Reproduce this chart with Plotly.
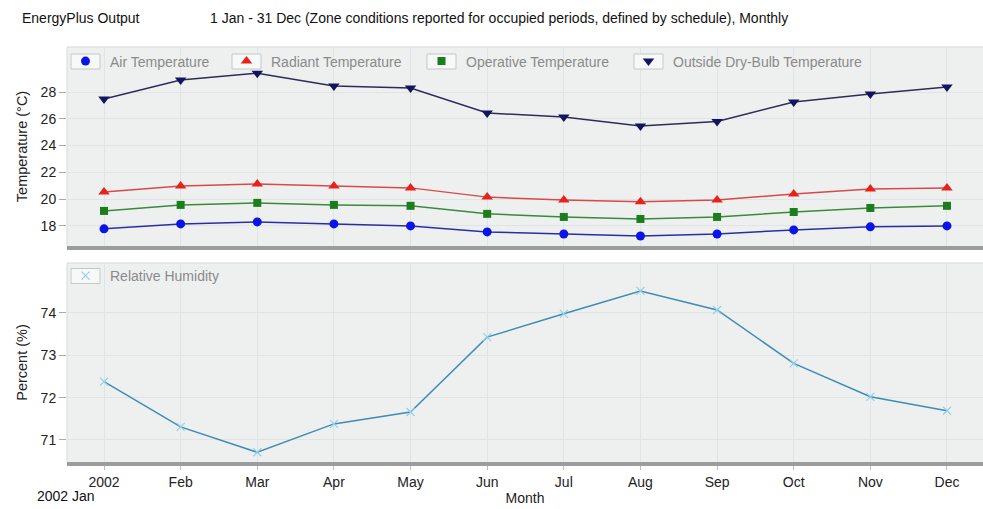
import plotly.graph_objects as go

months = ["Jan", "Feb", "Mar", "Apr", "May", "Jun", "Jul", "Aug", "Sep", "Oct", "Nov", "Dec"]
tick_labels = ["2002", "Feb", "Mar", "Apr", "May", "Jun", "Jul", "Aug", "Sep", "Oct", "Nov", "Dec"]

air_temp = [17.78, 18.15, 18.30, 18.15, 18.00, 17.55, 17.40, 17.25, 17.40, 17.70, 17.93, 18.00]
radiant_temp = [20.54, 20.98, 21.13, 20.98, 20.84, 20.15, 19.94, 19.80, 19.94, 20.39, 20.76, 20.84]
operative_temp = [19.12, 19.57, 19.72, 19.57, 19.50, 18.90, 18.67, 18.52, 18.67, 19.04, 19.34, 19.50]
outside_temp = [27.48, 28.90, 29.40, 28.45, 28.30, 26.43, 26.13, 25.46, 25.80, 27.25, 27.85, 28.37]
rel_humidity = [72.38, 71.31, 70.71, 71.38, 71.66, 73.43, 73.98, 74.52, 74.07, 72.81, 72.02, 71.69]

W, H = 983, 509
ML, MR, MT, MB = 67, 0, 47, 47
PW, PH = W - ML - MR, H - MT - MB

def px(x):
    return (x - ML) / PW

def py(y):
    return (H - MB - y) / PH

FONT = "Liberation Sans, Arial, sans-serif"
BG = "#eef0f0"
GRID = "#e0e4e4"
ITEMW = 39

fig = go.Figure()

# (name, values, symbol, marker colour, line colour, marker size, legend id, legend text x, legend y)
series = [
    ("Air Temperature", air_temp, "circle", "#0a14e6", "#2a2fa0", 9, "legend", 110, 61.5),
    ("Radiant Temperature", radiant_temp, "triangle-up", "#e8221a", "#d84a4a", 10, "legend2", 271, 61.5),
    ("Operative Temperature", operative_temp, "square", "#1b7d1b", "#3a8a3a", 8, "legend3", 466, 61.5),
    ("Outside Dry-Bulb Temperature", outside_temp, "triangle-down", "#14145e", "#2c2c58", 10, "legend4", 673, 61.5),
]

legends = {}
shapes = []
for name, vals, sym, mc, lc, ms, lg, tx, ly in series:
    fig.add_trace(go.Scatter(
        x=months, y=vals, name=name, mode="lines",
        line=dict(color=lc, width=1.5), showlegend=False,
        xaxis="x", yaxis="y",
    ))
    fig.add_trace(go.Scatter(
        x=months, y=vals, name=name, mode="markers",
        marker=dict(symbol=sym, color=mc, size=ms),
        xaxis="x", yaxis="y", legend=lg,
    ))
    legends[lg] = (tx, ly)

fig.add_trace(go.Scatter(
    x=months, y=rel_humidity, name="Relative Humidity", mode="lines",
    line=dict(color="#3d8db5", width=1.5), showlegend=False,
    xaxis="x2", yaxis="y2",
))
fig.add_trace(go.Scatter(
    x=months, y=rel_humidity, name="Relative Humidity", mode="markers",
    marker=dict(symbol="x-thin", color="#8fd0ea", size=8, line=dict(color="#8fd0ea", width=1.2)),
    xaxis="x2", yaxis="y2", legend="legend5",
))
legends["legend5"] = (110, 276)

legend_layout = {}
for lg, (tx, ly) in legends.items():
    item_start = tx - (ITEMW + 10)
    cx = item_start + (ITEMW + 10) / 2
    legend_layout[lg] = dict(
        orientation="h", x=px(item_start), y=py(ly), xanchor="left", yanchor="middle",
        bgcolor="rgba(0,0,0,0)", borderwidth=0,
        font=dict(family=FONT, size=14, color="#8a8a8a"),
        itemwidth=ITEMW, itemclick=False, itemdoubleclick=False,
    )
    shapes.append(dict(
        type="rect", xref="paper", yref="paper",
        x0=px(cx - 14.5), x1=px(cx + 14.5), y0=py(ly - 7.5), y1=py(ly + 7.5),
        line=dict(color="#c4c8c8", width=1), fillcolor="#f7f8f8", layer="above",
    ))

top_dom = [py(246), 1.0]
bot_dom = [0.0, py(263)]
xrange_ = [-0.483, 11.47]

# light panel borders (top and left)
for y_top, y_bot in [(47, 246), (263, 462)]:
    shapes.append(dict(type="line", xref="paper", yref="paper",
                       x0=0, x1=1, y0=py(y_top), y1=py(y_top),
                       line=dict(color="#d6d9d9", width=1), layer="below"))
    shapes.append(dict(type="line", xref="paper", yref="paper",
                       x0=0, x1=0, y0=py(y_top), y1=py(y_bot),
                       line=dict(color="#d6d9d9", width=1), layer="below"))

axis_common = dict(
    showgrid=True, gridcolor=GRID, gridwidth=1, zeroline=False,
    tickfont=dict(family=FONT, size=14, color="#222"),
)

fig.update_layout(
    width=W, height=H,
    margin=dict(l=ML, r=MR, t=MT, b=MB, autoexpand=False),
    paper_bgcolor="white", plot_bgcolor=BG,
    font=dict(family=FONT, size=14, color="#222"),
    showlegend=True,
    xaxis=dict(
        **axis_common, domain=[0, 1], anchor="y", type="category",
        categoryorder="array", categoryarray=months,
        range=xrange_, showticklabels=False, ticks="",
        showline=True, linecolor="#9c9c9c", linewidth=4,
    ),
    yaxis=dict(
        **axis_common, domain=top_dom, anchor="x", range=[16.5, 31.36],
        tickvals=[18, 20, 22, 24, 26, 28], ticks="outside", ticklen=7, tickcolor="#aaa",
        title=dict(text="Temperature (°C)", font=dict(family=FONT, size=14.5, color="#222"), standoff=9),
    ),
    xaxis2=dict(
        **axis_common, domain=[0, 1], anchor="y2", type="category",
        categoryorder="array", categoryarray=months,
        range=xrange_, tickvals=months, ticktext=tick_labels, ticks="outside",
        ticklen=4, tickcolor="#bbb",
        showline=True, linecolor="#9c9c9c", linewidth=4,
        title=dict(text="Month", font=dict(family=FONT, size=14, color="#222"), standoff=5),
    ),
    yaxis2=dict(
        **axis_common, domain=bot_dom, anchor="x2", range=[70.48, 75.18],
        tickvals=[71, 72, 73, 74], ticks="outside", ticklen=7, tickcolor="#aaa",
        title=dict(text="Percent (%)", font=dict(family=FONT, size=14.5, color="#222"), standoff=9),
    ),
    shapes=shapes,
    annotations=[
        dict(text="EnergyPlus Output", x=px(20), y=py(18), xref="paper", yref="paper",
             xanchor="left", yanchor="middle", showarrow=False,
             font=dict(family=FONT, size=14, color="#111")),
        dict(text="1 Jan - 31 Dec (Zone conditions reported for occupied periods, defined by schedule), Monthly",
             x=px(208), y=py(18), xref="paper", yref="paper",
             xanchor="left", yanchor="middle", showarrow=False,
             font=dict(family=FONT, size=14, color="#111")),
        dict(text="2002 Jan", x=px(35), y=py(496), xref="paper", yref="paper",
             xanchor="left", yanchor="middle", showarrow=False,
             font=dict(family=FONT, size=14, color="#111")),
    ],
    **legend_layout,
)

fig.write_html("out.html", config={"displayModeBar": False},
               post_script="document.body.style.margin='0';")
